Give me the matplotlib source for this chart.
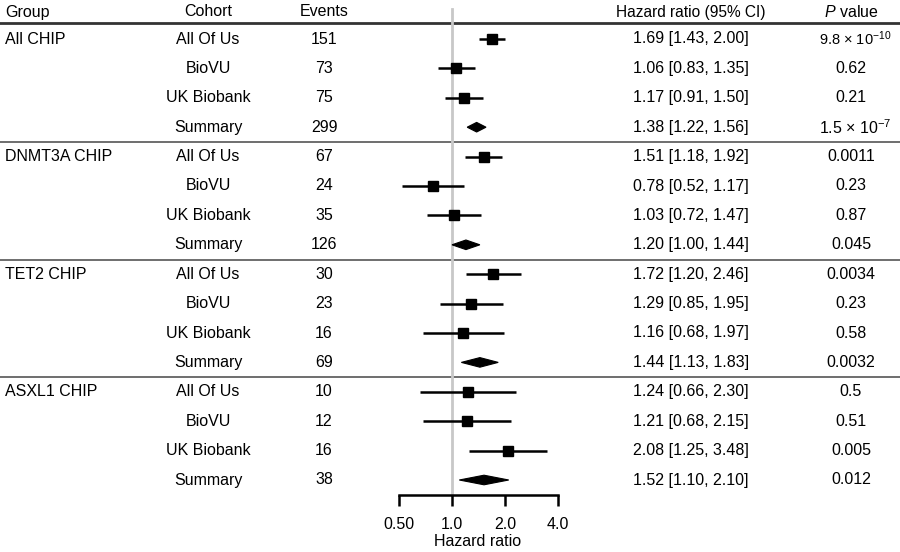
#!/usr/bin/env python3
"""Forest plot of CHIP hazard ratios by cohort."""

import matplotlib

matplotlib.use("Agg")
import matplotlib.pyplot as plt
from matplotlib.patches import Polygon
from matplotlib.ticker import FixedLocator, FixedFormatter, NullLocator

groups = ["All CHIP", "DNMT3A CHIP", "TET2 CHIP", "ASXL1 CHIP"]
cohorts = ["All Of Us", "BioVU", "UK Biobank", "Summary"]
events = [151, 73, 75, 299, 67, 24, 35, 126, 30, 23, 16, 69, 10, 12, 16, 38]
hr = [1.69, 1.06, 1.17, 1.38, 1.51, 0.78, 1.03, 1.20,
      1.72, 1.29, 1.16, 1.44, 1.24, 1.21, 2.08, 1.52]
lo = [1.43, 0.83, 0.91, 1.22, 1.18, 0.52, 0.72, 1.00,
      1.20, 0.85, 0.68, 1.13, 0.66, 0.68, 1.25, 1.10]
hi = [2.00, 1.35, 1.50, 1.56, 1.92, 1.17, 1.47, 1.44,
      2.46, 1.95, 1.97, 1.83, 2.30, 2.15, 3.48, 2.10]
pvals = [r"9.8 × 10$^{-10}$", "0.62", "0.21", r"1.5 × 10$^{-7}$",
         "0.0011", "0.23", "0.87", "0.045",
         "0.0034", "0.23", "0.58", "0.0032",
         "0.5", "0.51", "0.005", "0.012"]
ticks = [0.5, 1.0, 2.0, 4.0]
tick_labels = ["0.50", "1.0", "2.0", "4.0"]

FS = 11.5
plt.rcParams.update({
    "font.family": ["Liberation Sans", "DejaVu Sans"],
    "mathtext.fontset": "custom",
    "mathtext.rm": "Liberation Sans",
    "mathtext.it": "Liberation Sans:italic",
    "font.size": FS,
})

W, H = 900, 552
fig = plt.figure(figsize=(9, 5.52), dpi=100)
# background axes in pixel coordinates for the table part
bg = fig.add_axes([0, 0, 1, 1])
bg.set_xlim(0, W)
bg.set_ylim(H, 0)
bg.axis("off")

row0, step = 39, 29.4
header_y = 12
col_group, col_cohort, col_events, col_hr, col_p = 5, 208, 324, 691, 851

bg.text(col_group, header_y, "Group", ha="left", va="center")
bg.text(col_cohort, header_y, "Cohort", ha="center", va="center")
bg.text(col_events, header_y, "Events", ha="center", va="center")
bg.text(col_hr, header_y, "Hazard ratio (95% CI)", ha="center", va="center", fontsize=11.2)
bg.text(col_p, header_y, r"$\it{P}$ value", ha="center", va="center")
bg.axhline(23, color="#333333", linewidth=2.0)

n_per = len(cohorts)
for i in range(len(events)):
    y = row0 + step * i
    g, c = divmod(i, n_per)
    if c == 0:
        bg.text(col_group, y, groups[g], ha="left", va="center")
        if g > 0:
            bg.axhline(y - step / 2, color="#555555", linewidth=1.2)
    bg.text(col_cohort, y, cohorts[c], ha="center", va="center")
    bg.text(col_events, y, str(events[i]), ha="center", va="center")
    bg.text(col_hr, y, f"{hr[i]:.2f} [{lo[i]:.2f}, {hi[i]:.2f}]", ha="center", va="center")
    # the longest exponent label is shrunk to fit the column
    fs = 10.5 if "{-10}" in pvals[i] else FS
    bg.text(col_p + 4 if "$" in pvals[i] else col_p, y, pvals[i],
            ha="center", va="center", fontsize=fs)

bg.text(478, 541, "Hazard ratio", ha="center", va="center")

# forest axes: log2 scale, 0.5 at x=399 px and 4.0 at x=558 px
x0, x1 = 399, 558
ax = fig.add_axes([x0 / W, 0, (x1 - x0) / W, 1])
ax.set_xscale("log", base=2)
ax.set_xlim(0.5, 4.0)
ax.set_ylim(H, 0)
ax.patch.set_alpha(0)
for side in ["top", "right", "left"]:
    ax.spines[side].set_visible(False)
ax.spines["bottom"].set_position(("data", 495))
ax.spines["bottom"].set_linewidth(1.8)
ax.yaxis.set_major_locator(NullLocator())
ax.xaxis.set_major_locator(FixedLocator(ticks))
ax.xaxis.set_major_formatter(FixedFormatter(tick_labels))
ax.xaxis.set_minor_locator(NullLocator())
ax.tick_params(axis="x", direction="out", length=8, width=1.8, labelsize=FS, pad=8)

ax.plot([1.0, 1.0], [9, 495], color="#c8c8c8", linewidth=2.0, zorder=1, clip_on=False)

for i in range(len(events)):
    y = row0 + step * i
    if i % n_per == n_per - 1:
        poly = Polygon([[lo[i], y], [hr[i], y - 4.8], [hi[i], y], [hr[i], y + 4.8]],
                       closed=True, facecolor="black", edgecolor="black",
                       linewidth=0.8, zorder=3)
        ax.add_patch(poly)
    else:
        ax.plot([lo[i], hi[i]], [y, y], color="black", linewidth=1.8, zorder=2,
                solid_capstyle="butt")
        ax.plot(hr[i], y, marker="s", markersize=7.5, color="black", zorder=3)

fig.savefig("out.png", dpi=100)
